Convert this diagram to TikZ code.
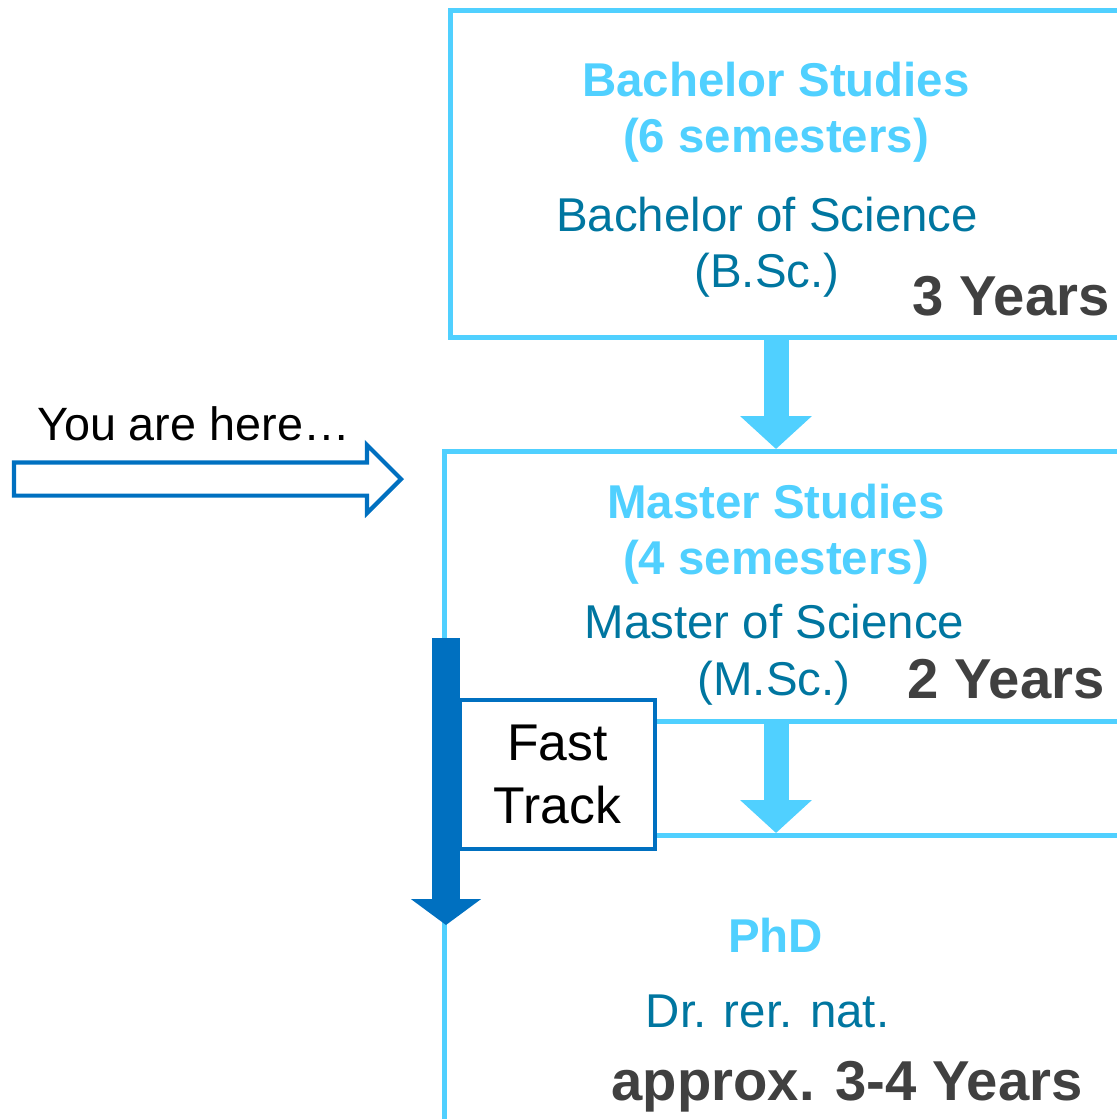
\documentclass[tikz,border=0pt]{standalone}
\usepackage{fontspec}
\setmainfont{Liberation Sans}
\usepackage{tikz}
\usetikzlibrary{arrows.meta,positioning,shapes.arrows}
\definecolor{skyblue}{RGB}{80,208,255}
\definecolor{degreeteal}{RGB}{0,118,160}
\definecolor{fastblue}{RGB}{0,112,192}
\definecolor{yeargray}{RGB}{64,64,64}

\begin{document}
\begin{tikzpicture}[
    stagebox/.style={rectangle, draw=skyblue, line width=1.4pt, inner sep=0pt, anchor=north west, minimum width=7cm},
    title/.style={anchor=base, inner sep=0pt, text=skyblue, font=\fontsize{13.5}{16}\selectfont\bfseries},
    degree/.style={anchor=base, inner sep=0pt, text=degreeteal, font=\fontsize{13.5}{16}\selectfont},
    years/.style={anchor=base, inner sep=0pt, text=yeargray, font=\fontsize{16}{19}\selectfont\bfseries},
    flow/.style={-{Triangle[width=7mm,length=3.3mm]}, line width=2.5mm, draw=skyblue},
    fast/.style={-{Triangle[width=6.9mm,length=2.6mm]}, line width=2.8mm, draw=fastblue},
    ftbox/.style={rectangle, draw=fastblue, fill=white, line width=1.1pt, minimum width=1.95cm, minimum height=1.49cm,
                  align=center, font=\fontsize{14.7}{17.9}\selectfont},
    herearrow/.style={single arrow, draw=fastblue, line width=1.2pt, minimum height=3.87cm, minimum width=0.64cm,
                      inner sep=0pt, inner ysep=0.145cm, single arrow head extend=0.175cm}
]
\useasboundingbox (0,0) rectangle (11.17,-11.19);
\clip (0,0) rectangle (11.17,-11.19);

\node[stagebox, minimum height=3.27cm] (bach) at (4.48,-0.08) {};
\node[stagebox, minimum height=2.70cm] (master) at (4.42,-4.49) {};
\node[stagebox, minimum height=3.20cm] (phd) at (4.42,-8.33) {};

\node[title] (bachtitle) at (7.76,-0.96) {Bachelor Studies};
\node[title] (bachsem) at (7.76,-1.52) {(6 semesters)};
\node[degree] (bachdeg) at (7.67,-2.31) {Bachelor of Science};
\node[degree] (bachabbr) at (7.67,-2.87) {(B.Sc.)};
\node[years] (bachyears) at (10.11,-3.15) {3 Years};

\node[title] (mastitle) at (7.76,-5.18) {Master Studies};
\node[title] (massem) at (7.76,-5.74) {(4 semesters)};
\node[degree] (masdeg) at (7.745,-6.38) {Master of Science};
\node[degree] (masabbr) at (7.74,-6.95) {(M.Sc.)};
\node[years] (masyears) at (10.06,-6.98) {2 Years};

\node[title] (phdtitle) at (7.755,-9.52) {PhD};
\node[degree] (phddeg) at (7.675,-10.27) {Dr. rer. nat.};
\node[years] (phdyears) at (8.47,-11.00) {approx. 3-4 Years};

\draw[flow] (bach.south -| bachtitle) -- (master.north -| bachtitle);
\draw[flow] (master.south -| mastitle) -- (phd.north -| mastitle);

\coordinate (ftstart) at (4.46,-6.38);
\coordinate (ftend) at (4.46,-9.25);
\draw[fast] (ftstart) -- (ftend);
\node[ftbox] (fasttrack) at (5.575,-7.745) {Fast\\Track};

\node[herearrow, anchor=tip] (here) at (4.04,-4.79) {};
\node[anchor=base, inner sep=0pt, font=\fontsize{13.3}{16}\selectfont] (heretext) at (1.935,-4.40) {You are here…};

\end{tikzpicture}
\end{document}
